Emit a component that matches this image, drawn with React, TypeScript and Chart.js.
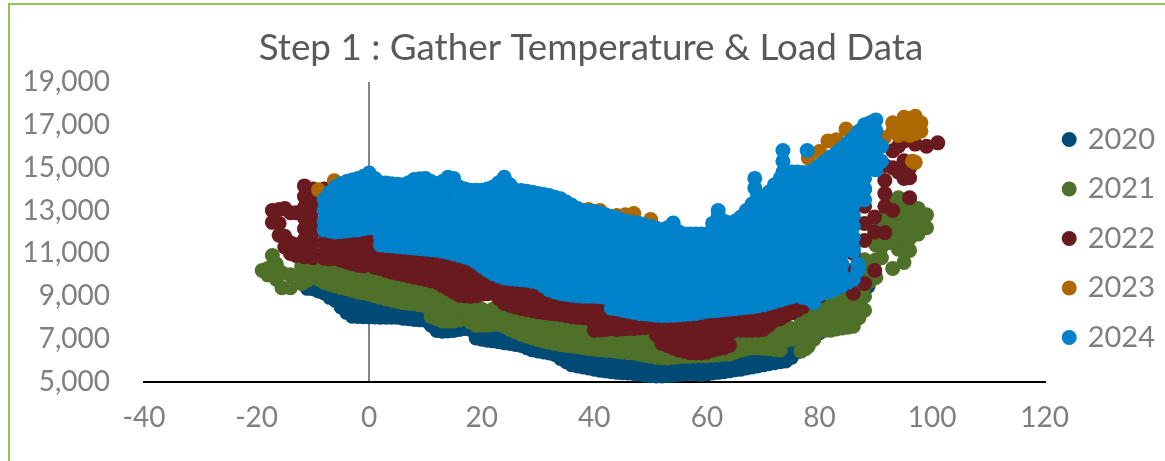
import React, { useEffect, useRef } from "react";
import { Chart, registerables } from "chart.js";

Chart.register(...registerables);

const titleText = "Step 1 : Gather Temperature & Load Data";
const years = ["2020", "2021", "2022", "2023", "2024"];
const yearColors = ["#004B76", "#4E7028", "#691A1E", "#AD6800", "#0082CB"];

// Each row: temperature, then the loads read at that temperature.
const readings2020 = [
  [-11,9370,9700],[-10,9350,9700],[-9,9250,9600],[-8,9150,9500],[-7,8950,9400],[-6,8800,9200],[-5,8500,9000,9300],[-4,8250,8700],[-3,8070,8600,9000],[-2,8060,8500,8900],[-1,8050,8550,8950],[0,8040,8500,8900],[1,8030,8500,8900],[2,8020,8450],[3,8020,8500],[4,8020,8450],[5,8020,8500],[6,7980,8400],[7,7950,8400],[8,7920,8350],[9,7900,8350],[10,7880,8300],[11,7650,8100],[12,7400,7850],[13,7370,7850],[14,7380,7850],[15,7400,7900],[16,7450,7900],[17,7500,8000],[18,7450,7900],[19,7050,7500,7900],[20,7000,7450],[21,6950,7450],[22,6920,7400],[23,6880,7350],[24,6830,7300],[25,6800,7300],[26,6750,7250],[27,6700,7200],[28,6600,7100],[29,6500,7000],[30,6450,6950],[31,6400,6900],[32,6350,6850],[33,6280,6750],[34,6100,6600],[35,5950,6450],[36,5800,6300],[37,5750,6250,6700],[38,5700,6200],[39,5650,6150],[40,5600,6100],[41,5550,6050],[42,5510,6000],[43,5480,5980],[44,5450,5950],[45,5430,5930],[46,5420,5900],[47,5400,5900],[48,5360,5850],[49,5320,5800],[50,5290,5800],[51,5280,5800],[52,5280,5780],[53,5300,5800],[54,5320,5800],[55,5350,5850],[56,5380,5880],[57,5400,5900],[58,5380,5880],[59,5350,5850],[60,5380,5880],[61,5420,5920],[62,5450,5950],[63,5480,5980],[64,5520,6020],[65,5570,6070],[66,5600,6100],[67,5650,6150],[68,5700,6200],[69,5750,6250],[70,5800,6300],[71,5850,6350],[72,5900,6400],[73,5950,6450],[74,5980,6500],[75,6150,6650],[76,6400,6900],[77,6650,7150],[78,6950,7400],[79,7150,7650],[80,7300,7800],[81,7500,8000],[82,7700,8200],[83,7840,8340],[84,8200,8700],[85,8500,9000],[86,8800],[87,9000],[88.6,9460],[89.5,9840],[94.4,11280],
];
const readings2021 = [
  [-19,10200],[-18,10300,10000],[-17.2,10900,10050],[-16.5,10500,9800],[-15.5,10100,9400],[-14,10000,9400],[-12,10400,9950,9600],[-11,10300,9900,9750],[-10,10500,10000],[-9,10500,10100,9800],[-8,10500,10000,9650],[-7,10400,9900,9560],[-6,10250,9750,9480],[-5,10250,9800,9400],[-4,10250,9750,9350],[-3,10100,9600,9270],[-2,10000,9500,9200],[-1,10000,9500,9150],[0,10000,9500,9100],[1,9900,9400,9020],[2,9750,9250,8950],[3,9750,9300,8880],[4,9750,9250,8820],[5,9650,9150,8760],[6,9500,9000,8700],[7,9500,9000,8670],[8,9500,9000,8650],[9,9400,8900,8600],[10,9250,8750,8550],[11,9000,8500,8060],[12,9000,8500,8000,7950],[13,9000,8500,8000,7850],[14,8800,8300,7850],[15,8750,8250,7850],[16,8650,8150,7900],[17,8500,8000,7950],[18,8500,8000,7800],[19,8500,8000,7650],[20,8400,7900,7650],[21,8250,7750,7650],[22,8400,7900,7680],[23,8500,8000,7700],[24,8350,7850,7600],[25,8250,7750,7450],[26,8200,7700,7340],[27,8000,7500,7230],[28,8100,7600,7140],[29,8000,7500,7050],[30,7900,7400,6970],[31,7750,7250,6900],[32,7800,7300,6850],[33,7750,7250,6800],[34,7600,7100,6750],[35,7500,7000,6700],[36,7700,7200,6680],[37,7750,7250,6650],[38,7600,7100,6600],[39,7500,7000,6560],[40,7500,7000,6530],[41,7500,7000,6500],[42,7400,6900,6480],[43,7250,6750,6470],[44,7200,6700,6430],[45,7000,6500,6400],[46,7100,6600,6370],[47,7250,6750,6350],[48,7100,6600,6300],[49,7000,6500,6250],[50,7100,6600,6200],[51,7250,6750,6150],[52,7100,6600,6130],[53,7000,6500,6120],[54,6900,6400,6150],[55,6750,6250,6180],[56,6850,6350,6190],[57,7000,6500,6200],[58,6900,6400,6210],[59,6750,6250,6220],[60,6850,6350,6230],[61,7000,6500,6250],[62,6850,6350,6260],[63,6750,6300],[64,6850,6300],[65,7000,6500,6400],[66,7100,6600,6470],[67,7250,6750,6550],[68,7100,6600],[69,7000,6600],[70,7250,6750,6570],[71,7500,7000,6550],[72,7400,6900,6520],[73,7250,6750,6490],[74,7400,6950],[75,7500,7000],[76.7,8000,7500,7000,6440],[77.5,8100,7600,7100,6550],[78,8500,8000,7600,6670],[79,8600,8100,7600,7000],[80,8750,8250,7600,7400],[81,8750,8250,7750,7420],[82,8750,8250,7420],[83,8850,8350,7850,7470],[84,9000,8500,8000,7520],[85,9000,8500,8000,7560],[86,9000,8500,7600],[87,9250,8750,8300,8000],[88,9500,9000,8350,10000,10700],[89,9700,10300],[90,9880,10700,11400,12100],[91,10800,11300,11900,12600],[92,11500,12000,12500,13000],[93,10300,11500,12250,12750,13300],[94,11200,11900,12500,13100,13600],[95,10580,11100,11800,12400,13000,13500],[96,11140,11700,12300,12900,13400],[97.5,11900,12500,13090],[99,12200,12800],
];
const readings2022 = [
  [-17.2,13000,12450],[-16,13050,12400,11850],[-15,13100,11800,11300],[-14,12900,11500,11000],[-13,12900,11400,10900],[-11.5,14150,13650,13150,12650,12150,11650,11150,10850],[-10,14000,13500,13000,12500,12000,11500,11000,10800],[-8,14000,13500,12000,11500,11000,10780],[-7,12000,11500,11000,10750],[-6,11750,11250,10770],[-5,11800,11300,10800,10680],[-4,12000,11500,11000,10600],[-3,11900,11400,10900,10520],[-2,11750,11250,10750,10450],[-1,11800,11300,10800,10420],[0,12000,11500,11000,10500],[1,11500,11000,10500,10350],[2,11250,10750,10300],[3,11100,10600,10200],[4,11000,10500,10120],[5,10900,10400,10070],[6,10750,10250,10020],[7,10900,10400,9960],[8,11000,10500,9900],[9,10900,10400,9840],[10,10750,10250,9780],[11,10900,10400,9720],[12,11000,10500,10000,9650],[13,10850,10350,9850,9500],[14,10750,10250,9750,9350],[15,10600,10100,9600,9200],[16,10500,10000,9500,9050],[17,10400,9900,9400,9020],[18,10250,9750,9250,9000],[19,10100,9600,9100,9030],[20,10000,9500,9100],[21,9900,9400,9120],[22,9750,9250,9140],[23,9600,9150,8900],[24,9500,9000,8670],[25,9400,8900,8580],[26,9250,8750,8500],[27,9400,8900,8430],[28,9500,9000,8380],[29,9400,8900,8330],[30,9250,8750,8280],[31,9150,8650,8240],[32,9000,8500,8210],[33,8900,8400,8180],[34,8750,8250,8150],[35,8900,8400,8100],[36,9000,8500,8050],[37,8900,8400,8020],[38,8750,8250,8000],[39,8700,8200,7980],[40,8500,8000,7700,7420],[41,8650,8150,7650,7430],[42,8750,8250,7750,7450],[43,8500,8000,7500],[44,8250,7750,7450],[45,8300,7800,7480],[46,8000,7500],[47,8100,7600,7500],[48,8250,7750,7520],[49,8150,7650,7540],[50,8000,7560],[51,8100,7600,7200],[52,8250,7750,7250,6800],[53,8100,7600,7100,6700],[54,8000,7500,7000,6600],[55,8100,7600,7100,6500],[56,8250,7750,7250,6750,6420],[57,8100,7600,7100,6600,6370],[58,8000,7500,7000,6350],[59,8100,7600,7100,6600,6370],[60,8250,7750,7250,6750,6400],[61,8100,7600,7100,6480],[62,8000,7500,7000,6550],[63,8100,7600,7100,6600],[64,8250,7750,7250,6700],[65,8100,7600,7420],[66,8000,7500,7420],[67,8100,7600,7420],[68,8250,7750,7420],[69,8350,7850,7430],[70,8500,8000,7450],[71,8600,8100,7650],[72,8750,8250,7880],[73,8600,8100,7950],[74,8500,8100],[75,8600,8220],[76,8750,8350],[77,8900,8500],[78,9000,8810],[79,9100,8900],[80,9250,9000],[81,9400,9200],[82,9700,9500],[83,9900,9600],[84,10000,9700],[85,10200,9900],[86,9140,10000,11000,11500],[88,9600,11600,12400,13200,14000],[89.8,10200,12000,12700],[91.6,11970,13200,13790,14400,15100],[93,13000,15000,15790],[94,14800,16000],[95,14500,15320,16250],[96,13600,14530,15000],[97,16100],[99,16000],[101,16160],
];
const readings2023 = [
  [-9,13970],[-6.2,14390],[0,13000],[17,13830],[20,12000],[29,13600],[30.7,13700],[32,13650],[34.5,13400],[39,13050],[40,11000],[41,13000],[44,12770],[45.5,12800],[47,12860],[50,12580],[53,12050],[60,10500],[63.5,12450],[70,11000],[75,14770],[78,15450],[80,15750],[81.5,16250],[83,16300],[84.7,16800],[86,16600],[90,16000],[91.5,16400],[93,16700,17100],[94,16500,16900],[95,16600,17050,17350],[96,16500,16900,17300],[96.5,15300],[97,16600,17000,17400,15250],[98,16700,17100],
];
const readings2024 = [
  [-8,13500,13000,12500,12100],[-7,13850,12050],
  [-6,14100,13750,13250,12750,12250,12000],[-5,14250,12020],
  [-4,14350,14000,13500,13000,12500,12050],[-3,14430,12080],
  [-2,14500,14250,13750,13250,12750,12250,12100],[-1,14600,12150],
  [0,14750,14500,14000,13500,13000,12500,12200],[1,14500,12170],
  [2,14300,13750,13250,12750,12250,11750,11400],[3,14280,11370],
  [4,14250,14000,13500,13000,12500,12000,11500,11350],[5,14230,11320],
  [6,14200,13750,13250,12750,12250,11750,11300],[7,14300,11270],
  [8,14450,14000,13500,13000,12500,12000,11500,11250],[9,14480,11220],
  [10,14500,14250,13750,13250,12750,12250,11750,11200],[11,14350,11170],
  [12,14200,14000,13500,13000,12500,12000,11500,11150],[13,14350,11100],
  [14,14550,14250,13750,13250,12750,12250,11750,11250,11050],[15,14500,10980],
  [16,14100,13500,13000,12500,12000,11500,11000,10900],[17,14000,10830],
  [18,13950,13750,13250,12750,12250,11750,11250,10750],[19,13950,10600],
  [20,13950,13500,13000,12500,12000,11500,11000,10500,10400],[21,14000,10220],
  [22,14100,13750,13250,12750,12250,11750,11250,10750,10250,10050],[23,14300,9950],
  [24,14550,14000,13500,13000,12500,12000,11500,11000,10500,10000,9850],[25,14200,9820],
  [26,13950,13750,13250,12750,12250,11750,11250,10750,10250,9800],[27,13930,9770],
  [28,13900,13500,13000,12500,12000,11500,11000,10500,10000,9750],[29,13850,9700],
  [30,13800,13250,12750,12250,11750,11250,10750,10250,9750,9650],[31,13750,9480],
  [32,13700,13500,13000,12500,12000,11500,11000,10500,10000,9500,9300],[33,13620,9200],
  [34,13550,13250,12750,12250,11750,11250,10750,10250,9750,9250,9130],[35,13400,9090],
  [36,13250,13000,12500,12000,11500,11000,10500,10000,9500,9050],[37,13100,9020],
  [38,13000,12750,12250,11750,11250,10750,10250,9750,9250,9000],[39,12980,9000],
  [40,12950,12500,12000,11500,11000,10500,10000,9500,9000],[41,12880,8980],
  [42,12800,12250,11750,11250,10750,10250,9750,9250,8950],[43,12720,8440],
  [44,12650,12500,12000,11500,11000,10500,10000,9500,9000,8500,8420],[45,12560,8350],
  [46,12480,12250,11750,11250,10750,10250,9750,9250,8750,8300],[47,12440,8250],
  [48,12400,12000,11500,11000,10500,10000,9500,9000,8500,8200],[49,12320,8170],
  [50,12250,11750,11250,10750,10250,9750,9250,8750,8250,8150],[51,12170,8120],
  [52,12100,11500,11000,10500,10000,9500,9000,8500,8100],[53,12200,8100],
  [54,12420,12250,11750,11250,10750,10250,9750,9250,8750,8250,8120],[55,12000,8130],
  [56,11900,11500,11000,10500,10000,9500,9000,8500,8150],[57,11900,8170],
  [58,11900,11750,11250,10750,10250,9750,9250,8750,8250,8200],[59,11900,8250],
  [60,11900,11500,11000,10500,10000,9500,9000,8500,8300],[61,12400,8320],
  [62,13000,12750,12250,11750,11250,10750,10250,9750,9250,8750,8340],[63,12500,8370],
  [64,12350,12000,11500,11000,10500,10000,9500,9000,8500,8400],[65,12500,8420],
  [66,12700,12250,11750,11250,10750,10250,9750,9250,8750,8450],[67,13000,8480],
  [68,13300,13000,12500,12000,11500,11000,10500,10000,9500,9000,8500],[68.5,14500,14050],[69,13700,8550],
  [70,13500,13250,12750,12250,11750,11250,10750,10250,9750,9250,8750,8600],[71,13850,8670],
  [72,14200,14000,13500,13000,12500,12000,11500,11000,10500,10000,9500,9000,8750],[73,14500,8820],
  [73.5,15800,15300,14800],
  [74,14800,14250,13750,13250,12750,12250,11750,11250,10750,10250,9750,9250,8900],[75,14800,8970],
  [76,14800,14500,14000,13500,13000,12500,12000,11500,11000,10500,10000,9500,9050],[77,14780,8950],
  [77.8,15800],
  [78,14770,14250,13750,13250,12750,12250,11750,11250,10750,10250,9750,9250,8900],
  [79,14900,8700],
  [80,15100,15000,14500,14000,13500,13000,12500,12000,11500,11000,10500,10000,9500,9100],[81,15300,9170],
  [82,15500,15250,14750,14250,13750,13250,12750,12250,11750,11250,10750,10250,9750,9250],[83,15700,9370],
  [84,15900,15500,15000,14500,14000,13500,13000,12500,12000,11500,11000,10500,10000,9500],[85,16150,9650],
  [86,16400,16250,15750,15250,14750,14250,13750,13250,12750,12250,11750,11250,11100,9800],
  [86.8,10500,10200],[87,16700],
  [88,17000,16500,16000,15500,15000,14500,14000,13500],[89,17100],
  [90,17230,16750,16250,15750,15250,14900],
  [91,16000,15300],
];

const allReadings = [readings2020, readings2021, readings2022, readings2023, readings2024];

const toPoints = (rows: number[][]) =>
  rows.flatMap(([temp, ...loads]) => loads.map((load) => ({ x: temp, y: load })));

export default function App() {
  const ref = useRef<HTMLCanvasElement>(null);
  useEffect(() => {
    const font = "Lato, sans-serif";
    const chart = new Chart(ref.current!, {
      type: "scatter",
      data: {
        datasets: years.map((year, i) => ({
          label: year,
          data: toPoints(allReadings[i]),
          backgroundColor: yearColors[i],
          borderColor: yearColors[i],
          pointRadius: 7.5,
          pointBorderWidth: 0,
          order: years.length - i,
          clip: false,
        })),
      },
      options: {
        animation: false,
        responsive: false,
        layout: { padding: { left: 17, right: 0, top: 16, bottom: 0 } },
        plugins: {
          tooltip: { enabled: false },
          title: {
            display: true,
            text: titleText,
            color: "#595959",
            font: { family: font, size: 36.8, weight: "normal" },
            padding: { top: 10, bottom: 11.8 },
          },
          legend: {
            position: "right",
            labels: {
              usePointStyle: true,
              pointStyle: "circle",
              boxWidth: 8,
              boxHeight: 10.6,
              padding: 20.5,
              color: "#7F7F7F",
              font: { family: font, size: 29 },
              sort: (a: any, b: any) => a.datasetIndex - b.datasetIndex,
            },
          },
        },
        scales: {
          x: {
            type: "linear",
            min: -40,
            max: 120,
            ticks: { stepSize: 20, color: "#7F7F7F", font: { family: font, size: 28 }, padding: 19, maxRotation: 0 },
            grid: {
              drawTicks: false,
              lineWidth: 2,
              color: (c: any) => (c.tick && c.tick.value === 0 ? "#868686" : "rgba(0,0,0,0)"),
            },
            border: { display: true, color: "#000000", width: 2 },
            afterFit: (s: any) => { s.height = 79; },
          },
          y: {
            type: "linear",
            min: 5000,
            max: 19000,
            ticks: { stepSize: 2000, color: "#7F7F7F", font: { family: font, size: 28 }, padding: 34, autoSkip: false },
            grid: { display: false, drawTicks: false },
            border: { display: false },
            afterFit: (s: any) => { s.width = 127; },
          },
        },
      },
    } as any);
    return () => chart.destroy();
  }, []);
  return (
    <div style={{ position: "fixed", inset: 0, overflow: "hidden", background: "#fff" }}>
      <div style={{ position: "absolute", left: 8, top: 3, width: 2000, height: 2000, borderLeft: "2px solid #8FC750", borderTop: "2px solid #8FC750" }} />
      <canvas ref={ref} width={1165} height={461} style={{ position: "absolute", left: 0, top: 0, display: "block" }} />
    </div>
  );
}
